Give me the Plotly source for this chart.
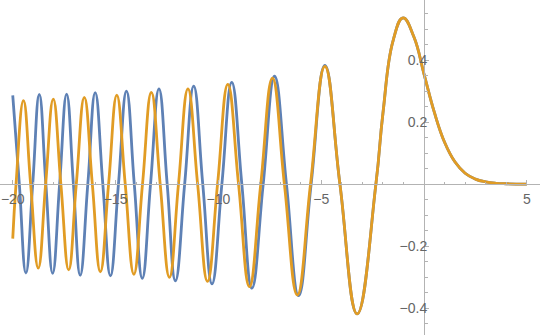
import plotly.graph_objects as go

# orange curve: extrema, zero crossings and a few points on the big lobes
orange_x = [
    -20.00, -19.84, -19.48, -19.13, -18.76, -18.40, -18.03, -17.66, -17.28,
    -16.91, -16.52, -16.13, -15.74, -15.34, -14.94, -14.53, -14.11, -13.69,
    -13.26, -12.83, -12.38, -11.94, -11.48, -11.01, -10.53, -10.04, -9.54,
    -9.02, -8.49, -7.94, -7.37, -6.79, -6.16, -5.52, -4.82, -4.09, -3.25,
    -2.34, -2.00, -1.50, -1.02, -0.50, 0.00, 0.50, 1.00, 1.50, 2.00, 2.50,
    3.00, 3.50, 4.00, 5.00,
]
orange_y = [
    -0.176, 0.0, 0.269, 0.0, -0.271, 0.0, 0.274, 0.0, -0.277,
    0.0, 0.280, 0.0, -0.283, 0.0, 0.287, 0.0, -0.291, 0.0,
    0.296, 0.0, -0.301, 0.0, 0.307, 0.0, -0.314, 0.0, 0.322,
    0.0, -0.331, 0.0, 0.342, 0.0, -0.358, 0.0, 0.380, 0.0, -0.419,
    0.0, 0.227, 0.464, 0.536, 0.476, 0.355, 0.232, 0.135, 0.072, 0.035, 0.016,
    0.007, 0.0025, 0.001, 0.0001,
]

# blue curve: same on the right, faster oscillation on the left
blue_x = [
    -20.00, -19.68, -19.36, -19.03, -18.71, -18.39, -18.06, -17.72, -17.38,
    -17.05, -16.72, -16.35, -15.99, -15.62, -15.25, -14.86, -14.47, -14.09,
    -13.70, -13.30, -12.89, -12.49, -12.09, -11.64, -11.20, -10.76, -10.31,
    -9.83, -9.35, -8.86, -8.37, -7.82, -7.27, -6.69, -6.10, -5.49, -4.82,
    -4.09, -3.25, -2.34, -2.00, -1.50, -1.02, -0.50, 0.00, 0.50, 1.00, 1.50,
    2.00, 2.50, 3.00, 3.50, 4.00, 5.00,
]
blue_y = [
    0.286, 0.0, -0.287, 0.0, 0.289, 0.0, -0.288, 0.0, 0.290,
    0.0, -0.294, 0.0, 0.295, 0.0, -0.296, 0.0, 0.300, 0.0,
    -0.304, 0.0, 0.307, 0.0, -0.312, 0.0, 0.316, 0.0, -0.322,
    0.0, 0.328, 0.0, -0.336, 0.0, 0.348, 0.0, -0.360, 0.0, 0.383,
    0.0, -0.419, 0.0, 0.227, 0.464, 0.536, 0.476, 0.355, 0.232, 0.135, 0.072,
    0.035, 0.016, 0.007, 0.0025, 0.001, 0.0001,
]

x_tickvals = [-20, -15, -10, -5, 5]
x_ticktext = ["\u221220", "\u221215", "\u221210", "\u22125", "5"]
y_tickvals = [-0.4, -0.2, 0.2, 0.4]
y_ticktext = ["\u22120.4", "\u22120.2", "0.2", "0.4"]

x_range = [-20.62, 5.64]
y_range = [-0.487, 0.594]

axis_color = "#b3b3b3"
label_color = "#666666"

fig = go.Figure()

fig.add_trace(go.Scatter(
    x=blue_x, y=blue_y, mode="lines",
    line=dict(color="#5E81B5", width=2.8, shape="spline", smoothing=1.3),
))
fig.add_trace(go.Scatter(
    x=orange_x, y=orange_y, mode="lines",
    line=dict(color="#E19C24", width=2.8, shape="spline", smoothing=1.3),
))

fig.update_layout(
    width=540,
    height=335,
    margin=dict(l=0, r=0, t=0, b=0),
    paper_bgcolor="#ffffff",
    plot_bgcolor="#ffffff",
    showlegend=False,
    font=dict(family="Liberation Sans", size=14, color=label_color),
)

fig.update_xaxes(
    range=x_range,
    showgrid=False,
    zeroline=False,
    showline=True,
    linecolor=axis_color,
    linewidth=1,
    anchor="free",
    position=(0 - y_range[0]) / (y_range[1] - y_range[0]),
    ticks="inside",
    ticklen=4,
    tickwidth=1,
    tickcolor=axis_color,
    tickmode="array",
    tickvals=x_tickvals,
    ticktext=x_ticktext,
    ticklabelstandoff=2,
    minor=dict(tickmode="linear", tick0=0, dtick=1, ticks="inside",
               ticklen=2.5, tickcolor=axis_color, showgrid=False),
)

fig.update_yaxes(
    range=y_range,
    showgrid=False,
    zeroline=False,
    showline=True,
    linecolor=axis_color,
    linewidth=1,
    anchor="free",
    position=(0 - x_range[0]) / (x_range[1] - x_range[0]),
    ticks="inside",
    ticklen=4,
    tickwidth=1,
    tickcolor=axis_color,
    tickmode="array",
    tickvals=y_tickvals,
    ticktext=y_ticktext,
    ticklabelstandoff=-6,
    minor=dict(tickmode="linear", tick0=0, dtick=0.05, ticks="inside",
               ticklen=2.5, tickcolor=axis_color, showgrid=False),
)

# drop the default 8px body margin so the figure fills the window
fig.write_html(
    "out.html",
    config={"displayModeBar": False},
    post_script="document.body.style.margin = '0';",
)
